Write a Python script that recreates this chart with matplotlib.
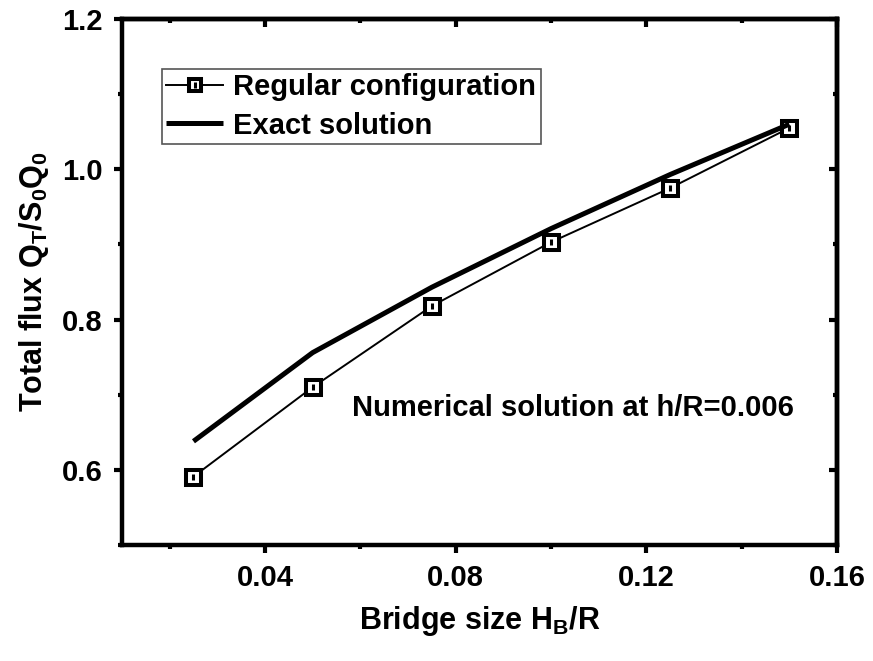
import matplotlib
matplotlib.use("Agg")
import matplotlib.pyplot as plt
from matplotlib.ticker import MultipleLocator

# data
bridge_size = [0.025, 0.05, 0.075, 0.1, 0.125, 0.15]
flux_regular = [0.591, 0.710, 0.818, 0.903, 0.975, 1.055]
flux_exact = [0.638, 0.756, 0.843, 0.921, 0.993, 1.060]

x_ticks = [0.04, 0.08, 0.12, 0.16]
y_ticks = [0.6, 0.8, 1.0, 1.2]

plt.rcParams['font.family'] = ['Liberation Sans', 'DejaVu Sans']
plt.rcParams['font.weight'] = 'bold'
plt.rcParams['mathtext.fontset'] = 'custom'
plt.rcParams['mathtext.rm'] = 'Liberation Sans:bold'
plt.rcParams['mathtext.it'] = 'Liberation Sans:bold'
plt.rcParams['mathtext.bf'] = 'Liberation Sans:bold'

fig = plt.figure(figsize=(8.73, 6.61), dpi=100)
ax = fig.add_axes([0.1397, 0.1755, 0.8191, 0.7958])

line_reg, = ax.plot(bridge_size, flux_regular, color='black', lw=1.4,
                    marker='s', markersize=10.8, markerfacecolor='white',
                    markeredgecolor='black', markeredgewidth=2.9)
dot_reg, = ax.plot(bridge_size, flux_regular, ls='none', marker='|',
                   markersize=5, markeredgewidth=2.2, color='black')
line_exact, = ax.plot(bridge_size, flux_exact, color='black', lw=3.6,
                      solid_capstyle='butt')

ax.set_xlim(0.01, 0.16)
ax.set_ylim(0.5, 1.2)
ax.set_xticks(x_ticks)
ax.set_yticks(y_ticks)
ax.xaxis.set_minor_locator(MultipleLocator(0.02))
ax.yaxis.set_minor_locator(MultipleLocator(0.1))
ax.set_xticklabels([f"{v:.2f}" for v in x_ticks])
ax.set_yticklabels([f"{v:.1f}" for v in y_ticks])

for sp in ax.spines.values():
    sp.set_linewidth(3.2)
ax.tick_params(which='major', direction='out', length=6, width=3,
               labelsize=21, pad=8)
ax.tick_params(which='minor', direction='out', length=2.8, width=3)

# mirrored ticks on top and right pointing inward
top = ax.secondary_xaxis('top')
top.set_xticks(x_ticks)
top.xaxis.set_minor_locator(MultipleLocator(0.02))
top.tick_params(which='major', direction='in', length=6, width=3,
                labeltop=False)
top.tick_params(which='minor', direction='in', length=2.8, width=3)
top.spines['top'].set_linewidth(3.2)
right = ax.secondary_yaxis('right')
right.set_yticks(y_ticks)
right.yaxis.set_minor_locator(MultipleLocator(0.1))
right.tick_params(which='major', direction='in', length=6, width=3,
                  labelright=False)
right.tick_params(which='minor', direction='in', length=2.8, width=3)
right.spines['right'].set_linewidth(3.2)

ax.set_xlabel(r'Bridge size H$_\mathregular{B}$/R', fontsize=22,
              fontweight='bold', labelpad=8)
ax.set_ylabel(r'Total flux Q$_\mathregular{T}$/S$_\mathregular{0}$Q$_\mathregular{0}$',
              fontsize=22, fontweight='bold', labelpad=8)

ax.text(0.0583, 0.682, 'Numerical solution at h/R=0.006', fontsize=21,
        fontweight='bold', va='center', ha='left')

leg = ax.legend([(line_reg, dot_reg), line_exact],
                ['Regular configuration', 'Exact solution'],
                loc='upper left', bbox_to_anchor=(0.056, 0.905),
                borderaxespad=0, fontsize=21, handlelength=1.95,
                handletextpad=0.35, labelspacing=0.35, borderpad=0.15,
                markerscale=0.85, fancybox=False, framealpha=1,
                edgecolor='#555555')
leg.get_frame().set_linewidth(1.2)

fig.savefig('out.png', dpi=100)
